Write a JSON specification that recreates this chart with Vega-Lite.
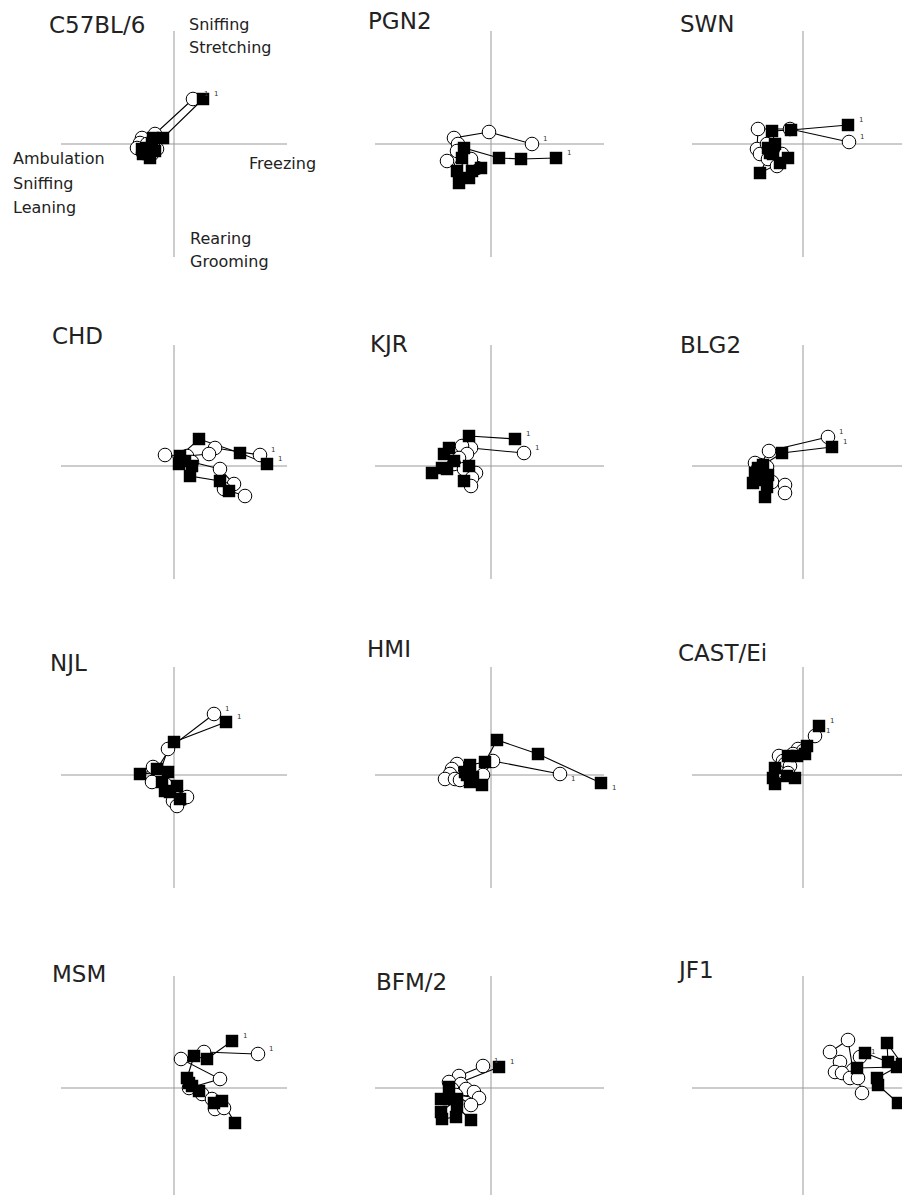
{
"$schema": "https://vega.github.io/schema/vega-lite/v6.json",
"padding": {"left": 13, "top": 11, "right": 0, "bottom": 0},
"background": "white",
"bounds": "flush",
"columns": 3,
"spacing": {"row": 88, "column": 88},
"config": {
  "view": {"stroke": null},
  "title": {"anchor": "start", "frame": "group", "offset": 0, "baseline": "alphabetic", "font": "DejaVu Sans", "fontSize": 23, "fontWeight": "normal", "color": "#222222"}
},
"datasets": {
"zero": [{"v": 0}],
"ann": [
 {"label": "Sniffing", "ax": 15, "ay": 114},
 {"label": "Stretching", "ax": 15, "ay": 91},
 {"label": "Ambulation", "ax": -161, "ay": -20},
 {"label": "Sniffing", "ax": -161, "ay": -45},
 {"label": "Leaning", "ax": -161, "ay": -69},
 {"label": "Freezing", "ax": 75, "ay": -25},
 {"label": "Rearing", "ax": 16, "ay": -100},
 {"label": "Grooming", "ax": 16, "ay": -123}
],
"pts": [
{"s":"C57BL/6","g":"o","t":1,"x":19,"y":45},{"s":"C57BL/6","g":"o","t":2,"x":-19,"y":10},{"s":"C57BL/6","g":"o","t":3,"x":-32,"y":6},{"s":"C57BL/6","g":"o","t":4,"x":-34,"y":1},{"s":"C57BL/6","g":"o","t":5,"x":-37,"y":-4},{"s":"C57BL/6","g":"o","t":6,"x":-31,"y":-9},{"s":"C57BL/6","g":"o","t":7,"x":-22,"y":-10},{"s":"C57BL/6","g":"o","t":8,"x":-17,"y":-5},{"s":"C57BL/6","g":"o","t":9,"x":-21,"y":1},{"s":"C57BL/6","g":"o","t":10,"x":-27,"y":0},
{"s":"C57BL/6","g":"f","t":1,"x":29,"y":45},{"s":"C57BL/6","g":"f","t":2,"x":-11,"y":6},{"s":"C57BL/6","g":"f","t":3,"x":-21,"y":6},{"s":"C57BL/6","g":"f","t":4,"x":-27,"y":-4},{"s":"C57BL/6","g":"f","t":5,"x":-31,"y":-10},{"s":"C57BL/6","g":"f","t":6,"x":-24,"y":-14},{"s":"C57BL/6","g":"f","t":7,"x":-19,"y":-7},{"s":"C57BL/6","g":"f","t":8,"x":-26,"y":-7},{"s":"C57BL/6","g":"f","t":9,"x":-32,"y":-5},{"s":"C57BL/6","g":"f","t":10,"x":-22,"y":0},
{"s":"PGN2","g":"o","t":1,"x":41,"y":0},{"s":"PGN2","g":"o","t":2,"x":-2,"y":12},{"s":"PGN2","g":"o","t":3,"x":-37,"y":6},{"s":"PGN2","g":"o","t":4,"x":-33,"y":0},{"s":"PGN2","g":"o","t":5,"x":-44,"y":-17},{"s":"PGN2","g":"o","t":6,"x":-34,"y":-7},{"s":"PGN2","g":"o","t":7,"x":-30,"y":-22},{"s":"PGN2","g":"o","t":8,"x":-25,"y":-26},{"s":"PGN2","g":"o","t":9,"x":-14,"y":-24},{"s":"PGN2","g":"o","t":10,"x":-20,"y":-15},
{"s":"PGN2","g":"f","t":1,"x":65,"y":-14},{"s":"PGN2","g":"f","t":2,"x":30,"y":-15},{"s":"PGN2","g":"f","t":3,"x":8,"y":-14},{"s":"PGN2","g":"f","t":4,"x":-27,"y":-4},{"s":"PGN2","g":"f","t":5,"x":-29,"y":-14},{"s":"PGN2","g":"f","t":6,"x":-34,"y":-27},{"s":"PGN2","g":"f","t":7,"x":-32,"y":-39},{"s":"PGN2","g":"f","t":8,"x":-22,"y":-34},{"s":"PGN2","g":"f","t":9,"x":-10,"y":-24},{"s":"PGN2","g":"f","t":10,"x":-19,"y":-27},
{"s":"SWN","g":"o","t":1,"x":46,"y":2},{"s":"SWN","g":"o","t":2,"x":-13,"y":15},{"s":"SWN","g":"o","t":3,"x":-45,"y":15},{"s":"SWN","g":"o","t":4,"x":-46,"y":-5},{"s":"SWN","g":"o","t":5,"x":-43,"y":-10},{"s":"SWN","g":"o","t":6,"x":-35,"y":-15},{"s":"SWN","g":"o","t":7,"x":-26,"y":-22},{"s":"SWN","g":"o","t":8,"x":-21,"y":-10},{"s":"SWN","g":"o","t":9,"x":-36,"y":0},{"s":"SWN","g":"o","t":10,"x":-30,"y":-5},
{"s":"SWN","g":"f","t":1,"x":45,"y":19},{"s":"SWN","g":"f","t":2,"x":-12,"y":14},{"s":"SWN","g":"f","t":3,"x":-31,"y":13},{"s":"SWN","g":"f","t":4,"x":-28,"y":0},{"s":"SWN","g":"f","t":5,"x":-33,"y":-9},{"s":"SWN","g":"f","t":6,"x":-43,"y":-29},{"s":"SWN","g":"f","t":7,"x":-23,"y":-19},{"s":"SWN","g":"f","t":8,"x":-15,"y":-14},{"s":"SWN","g":"f","t":9,"x":-30,"y":-10},{"s":"SWN","g":"f","t":10,"x":-35,"y":-4},
{"s":"CHD","g":"o","t":1,"x":86,"y":11},{"s":"CHD","g":"o","t":2,"x":41,"y":18},{"s":"CHD","g":"o","t":3,"x":35,"y":12},{"s":"CHD","g":"o","t":4,"x":13,"y":10},{"s":"CHD","g":"o","t":5,"x":-9,"y":11},{"s":"CHD","g":"o","t":6,"x":18,"y":4},{"s":"CHD","g":"o","t":7,"x":46,"y":-3},{"s":"CHD","g":"o","t":8,"x":60,"y":-18},{"s":"CHD","g":"o","t":9,"x":50,"y":-23},{"s":"CHD","g":"o","t":10,"x":71,"y":-30},
{"s":"CHD","g":"f","t":1,"x":93,"y":2},{"s":"CHD","g":"f","t":2,"x":66,"y":13},{"s":"CHD","g":"f","t":3,"x":25,"y":27},{"s":"CHD","g":"f","t":4,"x":6,"y":10},{"s":"CHD","g":"f","t":5,"x":11,"y":5},{"s":"CHD","g":"f","t":6,"x":5,"y":2},{"s":"CHD","g":"f","t":7,"x":18,"y":0},{"s":"CHD","g":"f","t":8,"x":16,"y":-10},{"s":"CHD","g":"f","t":9,"x":46,"y":-15},{"s":"CHD","g":"f","t":10,"x":55,"y":-25},
{"s":"KJR","g":"o","t":1,"x":33,"y":13},{"s":"KJR","g":"o","t":2,"x":-20,"y":18},{"s":"KJR","g":"o","t":3,"x":-29,"y":20},{"s":"KJR","g":"o","t":4,"x":-24,"y":12},{"s":"KJR","g":"o","t":5,"x":-32,"y":8},{"s":"KJR","g":"o","t":6,"x":-37,"y":2},{"s":"KJR","g":"o","t":7,"x":-27,"y":-3},{"s":"KJR","g":"o","t":8,"x":-15,"y":-7},{"s":"KJR","g":"o","t":9,"x":-19,"y":-12},{"s":"KJR","g":"o","t":10,"x":-20,"y":-20},
{"s":"KJR","g":"f","t":1,"x":24,"y":27},{"s":"KJR","g":"f","t":2,"x":-22,"y":30},{"s":"KJR","g":"f","t":3,"x":-42,"y":18},{"s":"KJR","g":"f","t":4,"x":-47,"y":12},{"s":"KJR","g":"f","t":5,"x":-37,"y":5},{"s":"KJR","g":"f","t":6,"x":-49,"y":-2},{"s":"KJR","g":"f","t":7,"x":-59,"y":-7},{"s":"KJR","g":"f","t":8,"x":-44,"y":-3},{"s":"KJR","g":"f","t":9,"x":-22,"y":0},{"s":"KJR","g":"f","t":10,"x":-27,"y":-15},
{"s":"BLG2","g":"o","t":1,"x":25,"y":29},{"s":"BLG2","g":"o","t":2,"x":-34,"y":15},{"s":"BLG2","g":"o","t":3,"x":-43,"y":1},{"s":"BLG2","g":"o","t":4,"x":-48,"y":3},{"s":"BLG2","g":"o","t":5,"x":-36,"y":-1},{"s":"BLG2","g":"o","t":6,"x":-46,"y":-4},{"s":"BLG2","g":"o","t":7,"x":-40,"y":-11},{"s":"BLG2","g":"o","t":8,"x":-31,"y":-16},{"s":"BLG2","g":"o","t":9,"x":-18,"y":-19},{"s":"BLG2","g":"o","t":10,"x":-18,"y":-27},
{"s":"BLG2","g":"f","t":1,"x":29,"y":19},{"s":"BLG2","g":"f","t":2,"x":-21,"y":13},{"s":"BLG2","g":"f","t":3,"x":-40,"y":1},{"s":"BLG2","g":"f","t":4,"x":-45,"y":-2},{"s":"BLG2","g":"f","t":5,"x":-48,"y":-7},{"s":"BLG2","g":"f","t":6,"x":-35,"y":-9},{"s":"BLG2","g":"f","t":7,"x":-41,"y":-14},{"s":"BLG2","g":"f","t":8,"x":-50,"y":-17},{"s":"BLG2","g":"f","t":9,"x":-36,"y":-21},{"s":"BLG2","g":"f","t":10,"x":-38,"y":-31},
{"s":"NJL","g":"o","t":1,"x":40,"y":61},{"s":"NJL","g":"o","t":2,"x":-6,"y":26},{"s":"NJL","g":"o","t":3,"x":-14,"y":3},{"s":"NJL","g":"o","t":4,"x":-21,"y":8},{"s":"NJL","g":"o","t":5,"x":-22,"y":-7},{"s":"NJL","g":"o","t":6,"x":-9,"y":-9},{"s":"NJL","g":"o","t":7,"x":-1,"y":-26},{"s":"NJL","g":"o","t":8,"x":8,"y":-24},{"s":"NJL","g":"o","t":9,"x":13,"y":-22},{"s":"NJL","g":"o","t":10,"x":3,"y":-31},
{"s":"NJL","g":"f","t":1,"x":52,"y":53},{"s":"NJL","g":"f","t":2,"x":0,"y":33},{"s":"NJL","g":"f","t":3,"x":-17,"y":6},{"s":"NJL","g":"f","t":4,"x":-34,"y":1},{"s":"NJL","g":"f","t":5,"x":-6,"y":3},{"s":"NJL","g":"f","t":6,"x":-12,"y":-7},{"s":"NJL","g":"f","t":7,"x":-9,"y":-16},{"s":"NJL","g":"f","t":8,"x":3,"y":-11},{"s":"NJL","g":"f","t":9,"x":-4,"y":-17},{"s":"NJL","g":"f","t":10,"x":6,"y":-24},
{"s":"HMI","g":"o","t":1,"x":69,"y":1},{"s":"HMI","g":"o","t":2,"x":2,"y":14},{"s":"HMI","g":"o","t":3,"x":-8,"y":0},{"s":"HMI","g":"o","t":4,"x":-28,"y":5},{"s":"HMI","g":"o","t":5,"x":-34,"y":11},{"s":"HMI","g":"o","t":6,"x":-39,"y":6},{"s":"HMI","g":"o","t":7,"x":-41,"y":1},{"s":"HMI","g":"o","t":8,"x":-46,"y":-4},{"s":"HMI","g":"o","t":9,"x":-36,"y":-4},{"s":"HMI","g":"o","t":10,"x":-31,"y":-5},
{"s":"HMI","g":"f","t":1,"x":110,"y":-8},{"s":"HMI","g":"f","t":2,"x":47,"y":21},{"s":"HMI","g":"f","t":3,"x":6,"y":35},{"s":"HMI","g":"f","t":4,"x":-6,"y":13},{"s":"HMI","g":"f","t":5,"x":-21,"y":10},{"s":"HMI","g":"f","t":6,"x":-26,"y":3},{"s":"HMI","g":"f","t":7,"x":-24,"y":0},{"s":"HMI","g":"f","t":8,"x":-18,"y":-2},{"s":"HMI","g":"f","t":9,"x":-21,"y":-7},{"s":"HMI","g":"f","t":10,"x":-9,"y":-10},
{"s":"CAST/Ei","g":"o","t":1,"x":12,"y":39},{"s":"CAST/Ei","g":"o","t":2,"x":-5,"y":26},{"s":"CAST/Ei","g":"o","t":3,"x":0,"y":24},{"s":"CAST/Ei","g":"o","t":4,"x":-10,"y":21},{"s":"CAST/Ei","g":"o","t":5,"x":-24,"y":19},{"s":"CAST/Ei","g":"o","t":6,"x":-20,"y":14},{"s":"CAST/Ei","g":"o","t":7,"x":-18,"y":11},{"s":"CAST/Ei","g":"o","t":8,"x":-13,"y":9},{"s":"CAST/Ei","g":"o","t":9,"x":-26,"y":4},{"s":"CAST/Ei","g":"o","t":10,"x":-15,"y":2},
{"s":"CAST/Ei","g":"f","t":1,"x":16,"y":49},{"s":"CAST/Ei","g":"f","t":2,"x":4,"y":29},{"s":"CAST/Ei","g":"f","t":3,"x":2,"y":21},{"s":"CAST/Ei","g":"f","t":4,"x":-6,"y":19},{"s":"CAST/Ei","g":"f","t":5,"x":-15,"y":19},{"s":"CAST/Ei","g":"f","t":6,"x":-28,"y":7},{"s":"CAST/Ei","g":"f","t":7,"x":-30,"y":-3},{"s":"CAST/Ei","g":"f","t":8,"x":-28,"y":-9},{"s":"CAST/Ei","g":"f","t":9,"x":-16,"y":-1},{"s":"CAST/Ei","g":"f","t":10,"x":-8,"y":-3},
{"s":"MSM","g":"o","t":1,"x":84,"y":34},{"s":"MSM","g":"o","t":2,"x":30,"y":36},{"s":"MSM","g":"o","t":3,"x":7,"y":29},{"s":"MSM","g":"o","t":4,"x":46,"y":9},{"s":"MSM","g":"o","t":5,"x":15,"y":0},{"s":"MSM","g":"o","t":6,"x":28,"y":-6},{"s":"MSM","g":"o","t":7,"x":38,"y":-11},{"s":"MSM","g":"o","t":8,"x":45,"y":-15},{"s":"MSM","g":"o","t":9,"x":41,"y":-21},{"s":"MSM","g":"o","t":10,"x":50,"y":-20},
{"s":"MSM","g":"f","t":1,"x":58,"y":47},{"s":"MSM","g":"f","t":2,"x":33,"y":29},{"s":"MSM","g":"f","t":3,"x":20,"y":32},{"s":"MSM","g":"f","t":4,"x":13,"y":10},{"s":"MSM","g":"f","t":5,"x":18,"y":2},{"s":"MSM","g":"f","t":6,"x":15,"y":5},{"s":"MSM","g":"f","t":7,"x":25,"y":-3},{"s":"MSM","g":"f","t":8,"x":40,"y":-15},{"s":"MSM","g":"f","t":9,"x":48,"y":-13},{"s":"MSM","g":"f","t":10,"x":61,"y":-35},
{"s":"BFM/2","g":"o","t":1,"x":-8,"y":22},{"s":"BFM/2","g":"o","t":2,"x":-32,"y":12},{"s":"BFM/2","g":"o","t":3,"x":-42,"y":6},{"s":"BFM/2","g":"o","t":4,"x":-30,"y":4},{"s":"BFM/2","g":"o","t":5,"x":-39,"y":-1},{"s":"BFM/2","g":"o","t":6,"x":-25,"y":-1},{"s":"BFM/2","g":"o","t":7,"x":-17,"y":-4},{"s":"BFM/2","g":"o","t":8,"x":-12,"y":-10},{"s":"BFM/2","g":"o","t":9,"x":-35,"y":-7},{"s":"BFM/2","g":"o","t":10,"x":-20,"y":-17},
{"s":"BFM/2","g":"f","t":1,"x":8,"y":21},{"s":"BFM/2","g":"f","t":2,"x":-42,"y":1},{"s":"BFM/2","g":"f","t":3,"x":-50,"y":-11},{"s":"BFM/2","g":"f","t":4,"x":-42,"y":-11},{"s":"BFM/2","g":"f","t":5,"x":-34,"y":-11},{"s":"BFM/2","g":"f","t":6,"x":-50,"y":-24},{"s":"BFM/2","g":"f","t":7,"x":-49,"y":-31},{"s":"BFM/2","g":"f","t":8,"x":-35,"y":-29},{"s":"BFM/2","g":"f","t":9,"x":-34,"y":-19},{"s":"BFM/2","g":"f","t":10,"x":-20,"y":-32},
{"s":"JF1","g":"o","t":1,"x":57,"y":31},{"s":"JF1","g":"o","t":2,"x":50,"y":18},{"s":"JF1","g":"o","t":3,"x":45,"y":48},{"s":"JF1","g":"o","t":4,"x":27,"y":36},{"s":"JF1","g":"o","t":5,"x":37,"y":26},{"s":"JF1","g":"o","t":6,"x":32,"y":16},{"s":"JF1","g":"o","t":7,"x":39,"y":15},{"s":"JF1","g":"o","t":8,"x":47,"y":10},{"s":"JF1","g":"o","t":9,"x":55,"y":10},{"s":"JF1","g":"o","t":10,"x":59,"y":-5},
{"s":"JF1","g":"f","t":1,"x":118,"y":38},{"s":"JF1","g":"f","t":2,"x":99,"y":24},{"s":"JF1","g":"f","t":3,"x":84,"y":45},{"s":"JF1","g":"f","t":4,"x":85,"y":26},{"s":"JF1","g":"f","t":5,"x":62,"y":35},{"s":"JF1","g":"f","t":6,"x":54,"y":20},{"s":"JF1","g":"f","t":7,"x":94,"y":21},{"s":"JF1","g":"f","t":8,"x":74,"y":10},{"s":"JF1","g":"f","t":9,"x":75,"y":3},{"s":"JF1","g":"f","t":10,"x":95,"y":-15}
]
},
"concat": [
 {"width": 226, "height": 226, "title": {"text": "C57BL/6", "dx": -12, "dy": 25}, "layer": [
  {"data": {"name": "zero"}, "mark": {"type": "rule", "color": "#999999", "strokeWidth": 1, "clip": true}, "encoding": {"x": {"field": "v", "type": "quantitative", "scale": {"domain": [-113, 113], "nice": false, "zero": false}, "axis": null}}},
  {"data": {"name": "zero"}, "mark": {"type": "rule", "color": "#999999", "strokeWidth": 1, "clip": true}, "encoding": {"y": {"field": "v", "type": "quantitative", "scale": {"domain": [-113, 113], "nice": false, "zero": false}, "axis": null}}},
  {"data": {"name": "pts"}, "transform": [{"filter": "datum.s === 'C57BL/6'"}], "mark": {"type": "line", "color": "black", "strokeWidth": 1.1, "clip": true}, "encoding": {"x": {"field": "x", "type": "quantitative", "scale": {"domain": [-113, 113], "nice": false, "zero": false}, "axis": null}, "y": {"field": "y", "type": "quantitative", "scale": {"domain": [-113, 113], "nice": false, "zero": false}, "axis": null}, "detail": {"field": "g"}, "order": {"field": "t"}}},
  {"data": {"name": "pts"}, "transform": [{"filter": "datum.s === 'C57BL/6' && datum.g === 'o'"}], "mark": {"type": "point", "shape": "circle", "filled": true, "fill": "white", "stroke": "black", "strokeWidth": 1, "size": 185, "opacity": 1, "clip": true}, "encoding": {"x": {"field": "x", "type": "quantitative", "scale": {"domain": [-113, 113], "nice": false, "zero": false}, "axis": null}, "y": {"field": "y", "type": "quantitative", "scale": {"domain": [-113, 113], "nice": false, "zero": false}, "axis": null}}},
  {"data": {"name": "pts"}, "transform": [{"filter": "datum.s === 'C57BL/6' && datum.g === 'f'"}], "mark": {"type": "point", "shape": "square", "filled": true, "color": "black", "size": 155, "opacity": 1, "clip": true}, "encoding": {"x": {"field": "x", "type": "quantitative", "scale": {"domain": [-113, 113], "nice": false, "zero": false}, "axis": null}, "y": {"field": "y", "type": "quantitative", "scale": {"domain": [-113, 113], "nice": false, "zero": false}, "axis": null}}},
  {"data": {"name": "pts"}, "transform": [{"filter": "datum.s === 'C57BL/6' && datum.t === 1"}], "mark": {"type": "text", "text": "1", "dx": 11, "dy": -5, "align": "left", "fontSize": 7, "font": "DejaVu Sans", "color": "#333333", "clip": true}, "encoding": {"x": {"field": "x", "type": "quantitative", "scale": {"domain": [-113, 113], "nice": false, "zero": false}, "axis": null}, "y": {"field": "y", "type": "quantitative", "scale": {"domain": [-113, 113], "nice": false, "zero": false}, "axis": null}}},
  {"data": {"name": "ann"}, "mark": {"type": "text", "align": "left", "baseline": "alphabetic", "fontSize": 16, "font": "DejaVu Sans", "color": "#222222"}, "encoding": {"x": {"field": "ax", "type": "quantitative", "scale": {"domain": [-113, 113], "nice": false, "zero": false}, "axis": null}, "y": {"field": "ay", "type": "quantitative", "scale": {"domain": [-113, 113], "nice": false, "zero": false}, "axis": null}, "text": {"field": "label"}}}
 ]},
 {"width": 229, "height": 226, "title": {"text": "PGN2", "dx": -7, "dy": 7}, "layer": [
  {"data": {"name": "zero"}, "mark": {"type": "rule", "color": "#999999", "strokeWidth": 1, "clip": true}, "encoding": {"x": {"field": "v", "type": "quantitative", "scale": {"domain": [-116, 113], "nice": false, "zero": false}, "axis": null}}},
  {"data": {"name": "zero"}, "mark": {"type": "rule", "color": "#999999", "strokeWidth": 1, "clip": true}, "encoding": {"y": {"field": "v", "type": "quantitative", "scale": {"domain": [-113, 113], "nice": false, "zero": false}, "axis": null}}},
  {"data": {"name": "pts"}, "transform": [{"filter": "datum.s === 'PGN2'"}], "mark": {"type": "line", "color": "black", "strokeWidth": 1.1, "clip": true}, "encoding": {"x": {"field": "x", "type": "quantitative", "scale": {"domain": [-116, 113], "nice": false, "zero": false}, "axis": null}, "y": {"field": "y", "type": "quantitative", "scale": {"domain": [-113, 113], "nice": false, "zero": false}, "axis": null}, "detail": {"field": "g"}, "order": {"field": "t"}}},
  {"data": {"name": "pts"}, "transform": [{"filter": "datum.s === 'PGN2' && datum.g === 'o'"}], "mark": {"type": "point", "shape": "circle", "filled": true, "fill": "white", "stroke": "black", "strokeWidth": 1, "size": 185, "opacity": 1, "clip": true}, "encoding": {"x": {"field": "x", "type": "quantitative", "scale": {"domain": [-116, 113], "nice": false, "zero": false}, "axis": null}, "y": {"field": "y", "type": "quantitative", "scale": {"domain": [-113, 113], "nice": false, "zero": false}, "axis": null}}},
  {"data": {"name": "pts"}, "transform": [{"filter": "datum.s === 'PGN2' && datum.g === 'f'"}], "mark": {"type": "point", "shape": "square", "filled": true, "color": "black", "size": 155, "opacity": 1, "clip": true}, "encoding": {"x": {"field": "x", "type": "quantitative", "scale": {"domain": [-116, 113], "nice": false, "zero": false}, "axis": null}, "y": {"field": "y", "type": "quantitative", "scale": {"domain": [-113, 113], "nice": false, "zero": false}, "axis": null}}},
  {"data": {"name": "pts"}, "transform": [{"filter": "datum.s === 'PGN2' && datum.t === 1"}], "mark": {"type": "text", "text": "1", "dx": 11, "dy": -5, "align": "left", "fontSize": 7, "font": "DejaVu Sans", "color": "#333333", "clip": true}, "encoding": {"x": {"field": "x", "type": "quantitative", "scale": {"domain": [-116, 113], "nice": false, "zero": false}, "axis": null}, "y": {"field": "y", "type": "quantitative", "scale": {"domain": [-113, 113], "nice": false, "zero": false}, "axis": null}}}
 ]},
 {"width": 210, "height": 226, "title": {"text": "SWN", "dx": -12, "dy": 10}, "layer": [
  {"data": {"name": "zero"}, "mark": {"type": "rule", "color": "#999999", "strokeWidth": 1, "clip": true}, "encoding": {"x": {"field": "v", "type": "quantitative", "scale": {"domain": [-111, 99], "nice": false, "zero": false}, "axis": null}}},
  {"data": {"name": "zero"}, "mark": {"type": "rule", "color": "#999999", "strokeWidth": 1, "clip": true}, "encoding": {"y": {"field": "v", "type": "quantitative", "scale": {"domain": [-113, 113], "nice": false, "zero": false}, "axis": null}}},
  {"data": {"name": "pts"}, "transform": [{"filter": "datum.s === 'SWN'"}], "mark": {"type": "line", "color": "black", "strokeWidth": 1.1, "clip": true}, "encoding": {"x": {"field": "x", "type": "quantitative", "scale": {"domain": [-111, 99], "nice": false, "zero": false}, "axis": null}, "y": {"field": "y", "type": "quantitative", "scale": {"domain": [-113, 113], "nice": false, "zero": false}, "axis": null}, "detail": {"field": "g"}, "order": {"field": "t"}}},
  {"data": {"name": "pts"}, "transform": [{"filter": "datum.s === 'SWN' && datum.g === 'o'"}], "mark": {"type": "point", "shape": "circle", "filled": true, "fill": "white", "stroke": "black", "strokeWidth": 1, "size": 185, "opacity": 1, "clip": true}, "encoding": {"x": {"field": "x", "type": "quantitative", "scale": {"domain": [-111, 99], "nice": false, "zero": false}, "axis": null}, "y": {"field": "y", "type": "quantitative", "scale": {"domain": [-113, 113], "nice": false, "zero": false}, "axis": null}}},
  {"data": {"name": "pts"}, "transform": [{"filter": "datum.s === 'SWN' && datum.g === 'f'"}], "mark": {"type": "point", "shape": "square", "filled": true, "color": "black", "size": 155, "opacity": 1, "clip": true}, "encoding": {"x": {"field": "x", "type": "quantitative", "scale": {"domain": [-111, 99], "nice": false, "zero": false}, "axis": null}, "y": {"field": "y", "type": "quantitative", "scale": {"domain": [-113, 113], "nice": false, "zero": false}, "axis": null}}},
  {"data": {"name": "pts"}, "transform": [{"filter": "datum.s === 'SWN' && datum.t === 1"}], "mark": {"type": "text", "text": "1", "dx": 11, "dy": -5, "align": "left", "fontSize": 7, "font": "DejaVu Sans", "color": "#333333", "clip": true}, "encoding": {"x": {"field": "x", "type": "quantitative", "scale": {"domain": [-111, 99], "nice": false, "zero": false}, "axis": null}, "y": {"field": "y", "type": "quantitative", "scale": {"domain": [-113, 113], "nice": false, "zero": false}, "axis": null}}}
 ]},
 {"width": 226, "height": 234, "title": {"text": "CHD", "dx": -9, "dy": 8}, "layer": [
  {"data": {"name": "zero"}, "mark": {"type": "rule", "color": "#999999", "strokeWidth": 1, "clip": true}, "encoding": {"x": {"field": "v", "type": "quantitative", "scale": {"domain": [-113, 113], "nice": false, "zero": false}, "axis": null}}},
  {"data": {"name": "zero"}, "mark": {"type": "rule", "color": "#999999", "strokeWidth": 1, "clip": true}, "encoding": {"y": {"field": "v", "type": "quantitative", "scale": {"domain": [-113, 121], "nice": false, "zero": false}, "axis": null}}},
  {"data": {"name": "pts"}, "transform": [{"filter": "datum.s === 'CHD'"}], "mark": {"type": "line", "color": "black", "strokeWidth": 1.1, "clip": true}, "encoding": {"x": {"field": "x", "type": "quantitative", "scale": {"domain": [-113, 113], "nice": false, "zero": false}, "axis": null}, "y": {"field": "y", "type": "quantitative", "scale": {"domain": [-113, 121], "nice": false, "zero": false}, "axis": null}, "detail": {"field": "g"}, "order": {"field": "t"}}},
  {"data": {"name": "pts"}, "transform": [{"filter": "datum.s === 'CHD' && datum.g === 'o'"}], "mark": {"type": "point", "shape": "circle", "filled": true, "fill": "white", "stroke": "black", "strokeWidth": 1, "size": 185, "opacity": 1, "clip": true}, "encoding": {"x": {"field": "x", "type": "quantitative", "scale": {"domain": [-113, 113], "nice": false, "zero": false}, "axis": null}, "y": {"field": "y", "type": "quantitative", "scale": {"domain": [-113, 121], "nice": false, "zero": false}, "axis": null}}},
  {"data": {"name": "pts"}, "transform": [{"filter": "datum.s === 'CHD' && datum.g === 'f'"}], "mark": {"type": "point", "shape": "square", "filled": true, "color": "black", "size": 155, "opacity": 1, "clip": true}, "encoding": {"x": {"field": "x", "type": "quantitative", "scale": {"domain": [-113, 113], "nice": false, "zero": false}, "axis": null}, "y": {"field": "y", "type": "quantitative", "scale": {"domain": [-113, 121], "nice": false, "zero": false}, "axis": null}}},
  {"data": {"name": "pts"}, "transform": [{"filter": "datum.s === 'CHD' && datum.t === 1"}], "mark": {"type": "text", "text": "1", "dx": 11, "dy": -5, "align": "left", "fontSize": 7, "font": "DejaVu Sans", "color": "#333333", "clip": true}, "encoding": {"x": {"field": "x", "type": "quantitative", "scale": {"domain": [-113, 113], "nice": false, "zero": false}, "axis": null}, "y": {"field": "y", "type": "quantitative", "scale": {"domain": [-113, 121], "nice": false, "zero": false}, "axis": null}}}
 ]},
 {"width": 229, "height": 234, "title": {"text": "KJR", "dx": -5, "dy": 16}, "layer": [
  {"data": {"name": "zero"}, "mark": {"type": "rule", "color": "#999999", "strokeWidth": 1, "clip": true}, "encoding": {"x": {"field": "v", "type": "quantitative", "scale": {"domain": [-116, 113], "nice": false, "zero": false}, "axis": null}}},
  {"data": {"name": "zero"}, "mark": {"type": "rule", "color": "#999999", "strokeWidth": 1, "clip": true}, "encoding": {"y": {"field": "v", "type": "quantitative", "scale": {"domain": [-113, 121], "nice": false, "zero": false}, "axis": null}}},
  {"data": {"name": "pts"}, "transform": [{"filter": "datum.s === 'KJR'"}], "mark": {"type": "line", "color": "black", "strokeWidth": 1.1, "clip": true}, "encoding": {"x": {"field": "x", "type": "quantitative", "scale": {"domain": [-116, 113], "nice": false, "zero": false}, "axis": null}, "y": {"field": "y", "type": "quantitative", "scale": {"domain": [-113, 121], "nice": false, "zero": false}, "axis": null}, "detail": {"field": "g"}, "order": {"field": "t"}}},
  {"data": {"name": "pts"}, "transform": [{"filter": "datum.s === 'KJR' && datum.g === 'o'"}], "mark": {"type": "point", "shape": "circle", "filled": true, "fill": "white", "stroke": "black", "strokeWidth": 1, "size": 185, "opacity": 1, "clip": true}, "encoding": {"x": {"field": "x", "type": "quantitative", "scale": {"domain": [-116, 113], "nice": false, "zero": false}, "axis": null}, "y": {"field": "y", "type": "quantitative", "scale": {"domain": [-113, 121], "nice": false, "zero": false}, "axis": null}}},
  {"data": {"name": "pts"}, "transform": [{"filter": "datum.s === 'KJR' && datum.g === 'f'"}], "mark": {"type": "point", "shape": "square", "filled": true, "color": "black", "size": 155, "opacity": 1, "clip": true}, "encoding": {"x": {"field": "x", "type": "quantitative", "scale": {"domain": [-116, 113], "nice": false, "zero": false}, "axis": null}, "y": {"field": "y", "type": "quantitative", "scale": {"domain": [-113, 121], "nice": false, "zero": false}, "axis": null}}},
  {"data": {"name": "pts"}, "transform": [{"filter": "datum.s === 'KJR' && datum.t === 1"}], "mark": {"type": "text", "text": "1", "dx": 11, "dy": -5, "align": "left", "fontSize": 7, "font": "DejaVu Sans", "color": "#333333", "clip": true}, "encoding": {"x": {"field": "x", "type": "quantitative", "scale": {"domain": [-116, 113], "nice": false, "zero": false}, "axis": null}, "y": {"field": "y", "type": "quantitative", "scale": {"domain": [-113, 121], "nice": false, "zero": false}, "axis": null}}}
 ]},
 {"width": 210, "height": 234, "title": {"text": "BLG2", "dx": -12, "dy": 17}, "layer": [
  {"data": {"name": "zero"}, "mark": {"type": "rule", "color": "#999999", "strokeWidth": 1, "clip": true}, "encoding": {"x": {"field": "v", "type": "quantitative", "scale": {"domain": [-111, 99], "nice": false, "zero": false}, "axis": null}}},
  {"data": {"name": "zero"}, "mark": {"type": "rule", "color": "#999999", "strokeWidth": 1, "clip": true}, "encoding": {"y": {"field": "v", "type": "quantitative", "scale": {"domain": [-113, 121], "nice": false, "zero": false}, "axis": null}}},
  {"data": {"name": "pts"}, "transform": [{"filter": "datum.s === 'BLG2'"}], "mark": {"type": "line", "color": "black", "strokeWidth": 1.1, "clip": true}, "encoding": {"x": {"field": "x", "type": "quantitative", "scale": {"domain": [-111, 99], "nice": false, "zero": false}, "axis": null}, "y": {"field": "y", "type": "quantitative", "scale": {"domain": [-113, 121], "nice": false, "zero": false}, "axis": null}, "detail": {"field": "g"}, "order": {"field": "t"}}},
  {"data": {"name": "pts"}, "transform": [{"filter": "datum.s === 'BLG2' && datum.g === 'o'"}], "mark": {"type": "point", "shape": "circle", "filled": true, "fill": "white", "stroke": "black", "strokeWidth": 1, "size": 185, "opacity": 1, "clip": true}, "encoding": {"x": {"field": "x", "type": "quantitative", "scale": {"domain": [-111, 99], "nice": false, "zero": false}, "axis": null}, "y": {"field": "y", "type": "quantitative", "scale": {"domain": [-113, 121], "nice": false, "zero": false}, "axis": null}}},
  {"data": {"name": "pts"}, "transform": [{"filter": "datum.s === 'BLG2' && datum.g === 'f'"}], "mark": {"type": "point", "shape": "square", "filled": true, "color": "black", "size": 155, "opacity": 1, "clip": true}, "encoding": {"x": {"field": "x", "type": "quantitative", "scale": {"domain": [-111, 99], "nice": false, "zero": false}, "axis": null}, "y": {"field": "y", "type": "quantitative", "scale": {"domain": [-113, 121], "nice": false, "zero": false}, "axis": null}}},
  {"data": {"name": "pts"}, "transform": [{"filter": "datum.s === 'BLG2' && datum.t === 1"}], "mark": {"type": "text", "text": "1", "dx": 11, "dy": -5, "align": "left", "fontSize": 7, "font": "DejaVu Sans", "color": "#333333", "clip": true}, "encoding": {"x": {"field": "x", "type": "quantitative", "scale": {"domain": [-111, 99], "nice": false, "zero": false}, "axis": null}, "y": {"field": "y", "type": "quantitative", "scale": {"domain": [-113, 121], "nice": false, "zero": false}, "axis": null}}}
 ]},
 {"width": 226, "height": 221, "title": {"text": "NJL", "dx": -11, "dy": 13}, "layer": [
  {"data": {"name": "zero"}, "mark": {"type": "rule", "color": "#999999", "strokeWidth": 1, "clip": true}, "encoding": {"x": {"field": "v", "type": "quantitative", "scale": {"domain": [-113, 113], "nice": false, "zero": false}, "axis": null}}},
  {"data": {"name": "zero"}, "mark": {"type": "rule", "color": "#999999", "strokeWidth": 1, "clip": true}, "encoding": {"y": {"field": "v", "type": "quantitative", "scale": {"domain": [-113, 108], "nice": false, "zero": false}, "axis": null}}},
  {"data": {"name": "pts"}, "transform": [{"filter": "datum.s === 'NJL'"}], "mark": {"type": "line", "color": "black", "strokeWidth": 1.1, "clip": true}, "encoding": {"x": {"field": "x", "type": "quantitative", "scale": {"domain": [-113, 113], "nice": false, "zero": false}, "axis": null}, "y": {"field": "y", "type": "quantitative", "scale": {"domain": [-113, 108], "nice": false, "zero": false}, "axis": null}, "detail": {"field": "g"}, "order": {"field": "t"}}},
  {"data": {"name": "pts"}, "transform": [{"filter": "datum.s === 'NJL' && datum.g === 'o'"}], "mark": {"type": "point", "shape": "circle", "filled": true, "fill": "white", "stroke": "black", "strokeWidth": 1, "size": 185, "opacity": 1, "clip": true}, "encoding": {"x": {"field": "x", "type": "quantitative", "scale": {"domain": [-113, 113], "nice": false, "zero": false}, "axis": null}, "y": {"field": "y", "type": "quantitative", "scale": {"domain": [-113, 108], "nice": false, "zero": false}, "axis": null}}},
  {"data": {"name": "pts"}, "transform": [{"filter": "datum.s === 'NJL' && datum.g === 'f'"}], "mark": {"type": "point", "shape": "square", "filled": true, "color": "black", "size": 155, "opacity": 1, "clip": true}, "encoding": {"x": {"field": "x", "type": "quantitative", "scale": {"domain": [-113, 113], "nice": false, "zero": false}, "axis": null}, "y": {"field": "y", "type": "quantitative", "scale": {"domain": [-113, 108], "nice": false, "zero": false}, "axis": null}}},
  {"data": {"name": "pts"}, "transform": [{"filter": "datum.s === 'NJL' && datum.t === 1"}], "mark": {"type": "text", "text": "1", "dx": 11, "dy": -5, "align": "left", "fontSize": 7, "font": "DejaVu Sans", "color": "#333333", "clip": true}, "encoding": {"x": {"field": "x", "type": "quantitative", "scale": {"domain": [-113, 113], "nice": false, "zero": false}, "axis": null}, "y": {"field": "y", "type": "quantitative", "scale": {"domain": [-113, 108], "nice": false, "zero": false}, "axis": null}}}
 ]},
 {"width": 229, "height": 221, "title": {"text": "HMI", "dx": -8, "dy": -1}, "layer": [
  {"data": {"name": "zero"}, "mark": {"type": "rule", "color": "#999999", "strokeWidth": 1, "clip": true}, "encoding": {"x": {"field": "v", "type": "quantitative", "scale": {"domain": [-116, 113], "nice": false, "zero": false}, "axis": null}}},
  {"data": {"name": "zero"}, "mark": {"type": "rule", "color": "#999999", "strokeWidth": 1, "clip": true}, "encoding": {"y": {"field": "v", "type": "quantitative", "scale": {"domain": [-113, 108], "nice": false, "zero": false}, "axis": null}}},
  {"data": {"name": "pts"}, "transform": [{"filter": "datum.s === 'HMI'"}], "mark": {"type": "line", "color": "black", "strokeWidth": 1.1}, "encoding": {"x": {"field": "x", "type": "quantitative", "scale": {"domain": [-116, 113], "nice": false, "zero": false}, "axis": null}, "y": {"field": "y", "type": "quantitative", "scale": {"domain": [-113, 108], "nice": false, "zero": false}, "axis": null}, "detail": {"field": "g"}, "order": {"field": "t"}}},
  {"data": {"name": "pts"}, "transform": [{"filter": "datum.s === 'HMI' && datum.g === 'o'"}], "mark": {"type": "point", "shape": "circle", "filled": true, "fill": "white", "stroke": "black", "strokeWidth": 1, "size": 185, "opacity": 1}, "encoding": {"x": {"field": "x", "type": "quantitative", "scale": {"domain": [-116, 113], "nice": false, "zero": false}, "axis": null}, "y": {"field": "y", "type": "quantitative", "scale": {"domain": [-113, 108], "nice": false, "zero": false}, "axis": null}}},
  {"data": {"name": "pts"}, "transform": [{"filter": "datum.s === 'HMI' && datum.g === 'f'"}], "mark": {"type": "point", "shape": "square", "filled": true, "color": "black", "size": 155, "opacity": 1}, "encoding": {"x": {"field": "x", "type": "quantitative", "scale": {"domain": [-116, 113], "nice": false, "zero": false}, "axis": null}, "y": {"field": "y", "type": "quantitative", "scale": {"domain": [-113, 108], "nice": false, "zero": false}, "axis": null}}},
  {"data": {"name": "pts"}, "transform": [{"filter": "datum.s === 'HMI' && datum.t === 1"}], "mark": {"type": "text", "text": "1", "dx": 11, "dy": 5, "align": "left", "fontSize": 7, "font": "DejaVu Sans", "color": "#333333"}, "encoding": {"x": {"field": "x", "type": "quantitative", "scale": {"domain": [-116, 113], "nice": false, "zero": false}, "axis": null}, "y": {"field": "y", "type": "quantitative", "scale": {"domain": [-113, 108], "nice": false, "zero": false}, "axis": null}}}
 ]},
 {"width": 210, "height": 221, "title": {"text": "CAST/Ei", "dx": -14, "dy": 3}, "layer": [
  {"data": {"name": "zero"}, "mark": {"type": "rule", "color": "#999999", "strokeWidth": 1, "clip": true}, "encoding": {"x": {"field": "v", "type": "quantitative", "scale": {"domain": [-111, 99], "nice": false, "zero": false}, "axis": null}}},
  {"data": {"name": "zero"}, "mark": {"type": "rule", "color": "#999999", "strokeWidth": 1, "clip": true}, "encoding": {"y": {"field": "v", "type": "quantitative", "scale": {"domain": [-113, 108], "nice": false, "zero": false}, "axis": null}}},
  {"data": {"name": "pts"}, "transform": [{"filter": "datum.s === 'CAST/Ei'"}], "mark": {"type": "line", "color": "black", "strokeWidth": 1.1, "clip": true}, "encoding": {"x": {"field": "x", "type": "quantitative", "scale": {"domain": [-111, 99], "nice": false, "zero": false}, "axis": null}, "y": {"field": "y", "type": "quantitative", "scale": {"domain": [-113, 108], "nice": false, "zero": false}, "axis": null}, "detail": {"field": "g"}, "order": {"field": "t"}}},
  {"data": {"name": "pts"}, "transform": [{"filter": "datum.s === 'CAST/Ei' && datum.g === 'o'"}], "mark": {"type": "point", "shape": "circle", "filled": true, "fill": "white", "stroke": "black", "strokeWidth": 1, "size": 185, "opacity": 1, "clip": true}, "encoding": {"x": {"field": "x", "type": "quantitative", "scale": {"domain": [-111, 99], "nice": false, "zero": false}, "axis": null}, "y": {"field": "y", "type": "quantitative", "scale": {"domain": [-113, 108], "nice": false, "zero": false}, "axis": null}}},
  {"data": {"name": "pts"}, "transform": [{"filter": "datum.s === 'CAST/Ei' && datum.g === 'f'"}], "mark": {"type": "point", "shape": "square", "filled": true, "color": "black", "size": 155, "opacity": 1, "clip": true}, "encoding": {"x": {"field": "x", "type": "quantitative", "scale": {"domain": [-111, 99], "nice": false, "zero": false}, "axis": null}, "y": {"field": "y", "type": "quantitative", "scale": {"domain": [-113, 108], "nice": false, "zero": false}, "axis": null}}},
  {"data": {"name": "pts"}, "transform": [{"filter": "datum.s === 'CAST/Ei' && datum.t === 1"}], "mark": {"type": "text", "text": "1", "dx": 11, "dy": -5, "align": "left", "fontSize": 7, "font": "DejaVu Sans", "color": "#333333", "clip": true}, "encoding": {"x": {"field": "x", "type": "quantitative", "scale": {"domain": [-111, 99], "nice": false, "zero": false}, "axis": null}, "y": {"field": "y", "type": "quantitative", "scale": {"domain": [-113, 108], "nice": false, "zero": false}, "axis": null}}}
 ]},
 {"width": 226, "height": 219, "title": {"text": "MSM", "dx": -9, "dy": 15}, "layer": [
  {"data": {"name": "zero"}, "mark": {"type": "rule", "color": "#999999", "strokeWidth": 1, "clip": true}, "encoding": {"x": {"field": "v", "type": "quantitative", "scale": {"domain": [-113, 113], "nice": false, "zero": false}, "axis": null}}},
  {"data": {"name": "zero"}, "mark": {"type": "rule", "color": "#999999", "strokeWidth": 1, "clip": true}, "encoding": {"y": {"field": "v", "type": "quantitative", "scale": {"domain": [-107, 112], "nice": false, "zero": false}, "axis": null}}},
  {"data": {"name": "pts"}, "transform": [{"filter": "datum.s === 'MSM'"}], "mark": {"type": "line", "color": "black", "strokeWidth": 1.1, "clip": true}, "encoding": {"x": {"field": "x", "type": "quantitative", "scale": {"domain": [-113, 113], "nice": false, "zero": false}, "axis": null}, "y": {"field": "y", "type": "quantitative", "scale": {"domain": [-107, 112], "nice": false, "zero": false}, "axis": null}, "detail": {"field": "g"}, "order": {"field": "t"}}},
  {"data": {"name": "pts"}, "transform": [{"filter": "datum.s === 'MSM' && datum.g === 'o'"}], "mark": {"type": "point", "shape": "circle", "filled": true, "fill": "white", "stroke": "black", "strokeWidth": 1, "size": 185, "opacity": 1, "clip": true}, "encoding": {"x": {"field": "x", "type": "quantitative", "scale": {"domain": [-113, 113], "nice": false, "zero": false}, "axis": null}, "y": {"field": "y", "type": "quantitative", "scale": {"domain": [-107, 112], "nice": false, "zero": false}, "axis": null}}},
  {"data": {"name": "pts"}, "transform": [{"filter": "datum.s === 'MSM' && datum.g === 'f'"}], "mark": {"type": "point", "shape": "square", "filled": true, "color": "black", "size": 155, "opacity": 1, "clip": true}, "encoding": {"x": {"field": "x", "type": "quantitative", "scale": {"domain": [-113, 113], "nice": false, "zero": false}, "axis": null}, "y": {"field": "y", "type": "quantitative", "scale": {"domain": [-107, 112], "nice": false, "zero": false}, "axis": null}}},
  {"data": {"name": "pts"}, "transform": [{"filter": "datum.s === 'MSM' && datum.t === 1"}], "mark": {"type": "text", "text": "1", "dx": 11, "dy": -5, "align": "left", "fontSize": 7, "font": "DejaVu Sans", "color": "#333333", "clip": true}, "encoding": {"x": {"field": "x", "type": "quantitative", "scale": {"domain": [-113, 113], "nice": false, "zero": false}, "axis": null}, "y": {"field": "y", "type": "quantitative", "scale": {"domain": [-107, 112], "nice": false, "zero": false}, "axis": null}}}
 ]},
 {"width": 229, "height": 219, "title": {"text": "BFM/2", "dx": 1, "dy": 23}, "layer": [
  {"data": {"name": "zero"}, "mark": {"type": "rule", "color": "#999999", "strokeWidth": 1, "clip": true}, "encoding": {"x": {"field": "v", "type": "quantitative", "scale": {"domain": [-116, 113], "nice": false, "zero": false}, "axis": null}}},
  {"data": {"name": "zero"}, "mark": {"type": "rule", "color": "#999999", "strokeWidth": 1, "clip": true}, "encoding": {"y": {"field": "v", "type": "quantitative", "scale": {"domain": [-107, 112], "nice": false, "zero": false}, "axis": null}}},
  {"data": {"name": "pts"}, "transform": [{"filter": "datum.s === 'BFM/2'"}], "mark": {"type": "line", "color": "black", "strokeWidth": 1.1, "clip": true}, "encoding": {"x": {"field": "x", "type": "quantitative", "scale": {"domain": [-116, 113], "nice": false, "zero": false}, "axis": null}, "y": {"field": "y", "type": "quantitative", "scale": {"domain": [-107, 112], "nice": false, "zero": false}, "axis": null}, "detail": {"field": "g"}, "order": {"field": "t"}}},
  {"data": {"name": "pts"}, "transform": [{"filter": "datum.s === 'BFM/2' && datum.g === 'o'"}], "mark": {"type": "point", "shape": "circle", "filled": true, "fill": "white", "stroke": "black", "strokeWidth": 1, "size": 185, "opacity": 1, "clip": true}, "encoding": {"x": {"field": "x", "type": "quantitative", "scale": {"domain": [-116, 113], "nice": false, "zero": false}, "axis": null}, "y": {"field": "y", "type": "quantitative", "scale": {"domain": [-107, 112], "nice": false, "zero": false}, "axis": null}}},
  {"data": {"name": "pts"}, "transform": [{"filter": "datum.s === 'BFM/2' && datum.g === 'f'"}], "mark": {"type": "point", "shape": "square", "filled": true, "color": "black", "size": 155, "opacity": 1, "clip": true}, "encoding": {"x": {"field": "x", "type": "quantitative", "scale": {"domain": [-116, 113], "nice": false, "zero": false}, "axis": null}, "y": {"field": "y", "type": "quantitative", "scale": {"domain": [-107, 112], "nice": false, "zero": false}, "axis": null}}},
  {"data": {"name": "pts"}, "transform": [{"filter": "datum.s === 'BFM/2' && datum.t === 1"}], "mark": {"type": "text", "text": "1", "dx": 11, "dy": -5, "align": "left", "fontSize": 7, "font": "DejaVu Sans", "color": "#333333", "clip": true}, "encoding": {"x": {"field": "x", "type": "quantitative", "scale": {"domain": [-116, 113], "nice": false, "zero": false}, "axis": null}, "y": {"field": "y", "type": "quantitative", "scale": {"domain": [-107, 112], "nice": false, "zero": false}, "axis": null}}}
 ]},
 {"width": 210, "height": 219, "title": {"text": "JF1", "dx": -13, "dy": 11}, "layer": [
  {"data": {"name": "zero"}, "mark": {"type": "rule", "color": "#999999", "strokeWidth": 1, "clip": true}, "encoding": {"x": {"field": "v", "type": "quantitative", "scale": {"domain": [-111, 99], "nice": false, "zero": false}, "axis": null}}},
  {"data": {"name": "zero"}, "mark": {"type": "rule", "color": "#999999", "strokeWidth": 1, "clip": true}, "encoding": {"y": {"field": "v", "type": "quantitative", "scale": {"domain": [-107, 112], "nice": false, "zero": false}, "axis": null}}},
  {"data": {"name": "pts"}, "transform": [{"filter": "datum.s === 'JF1'"}], "mark": {"type": "line", "color": "black", "strokeWidth": 1.1, "clip": true}, "encoding": {"x": {"field": "x", "type": "quantitative", "scale": {"domain": [-111, 99], "nice": false, "zero": false}, "axis": null}, "y": {"field": "y", "type": "quantitative", "scale": {"domain": [-107, 112], "nice": false, "zero": false}, "axis": null}, "detail": {"field": "g"}, "order": {"field": "t"}}},
  {"data": {"name": "pts"}, "transform": [{"filter": "datum.s === 'JF1' && datum.g === 'o'"}], "mark": {"type": "point", "shape": "circle", "filled": true, "fill": "white", "stroke": "black", "strokeWidth": 1, "size": 185, "opacity": 1, "clip": true}, "encoding": {"x": {"field": "x", "type": "quantitative", "scale": {"domain": [-111, 99], "nice": false, "zero": false}, "axis": null}, "y": {"field": "y", "type": "quantitative", "scale": {"domain": [-107, 112], "nice": false, "zero": false}, "axis": null}}},
  {"data": {"name": "pts"}, "transform": [{"filter": "datum.s === 'JF1' && datum.g === 'f'"}], "mark": {"type": "point", "shape": "square", "filled": true, "color": "black", "size": 155, "opacity": 1, "clip": true}, "encoding": {"x": {"field": "x", "type": "quantitative", "scale": {"domain": [-111, 99], "nice": false, "zero": false}, "axis": null}, "y": {"field": "y", "type": "quantitative", "scale": {"domain": [-107, 112], "nice": false, "zero": false}, "axis": null}}},
  {"data": {"name": "pts"}, "transform": [{"filter": "datum.s === 'JF1' && datum.t === 1 && datum.x < 90"}], "mark": {"type": "text", "text": "1", "dx": 11, "dy": -5, "align": "left", "fontSize": 7, "font": "DejaVu Sans", "color": "#333333", "clip": true}, "encoding": {"x": {"field": "x", "type": "quantitative", "scale": {"domain": [-111, 99], "nice": false, "zero": false}, "axis": null}, "y": {"field": "y", "type": "quantitative", "scale": {"domain": [-107, 112], "nice": false, "zero": false}, "axis": null}}}
 ]}
]
}
